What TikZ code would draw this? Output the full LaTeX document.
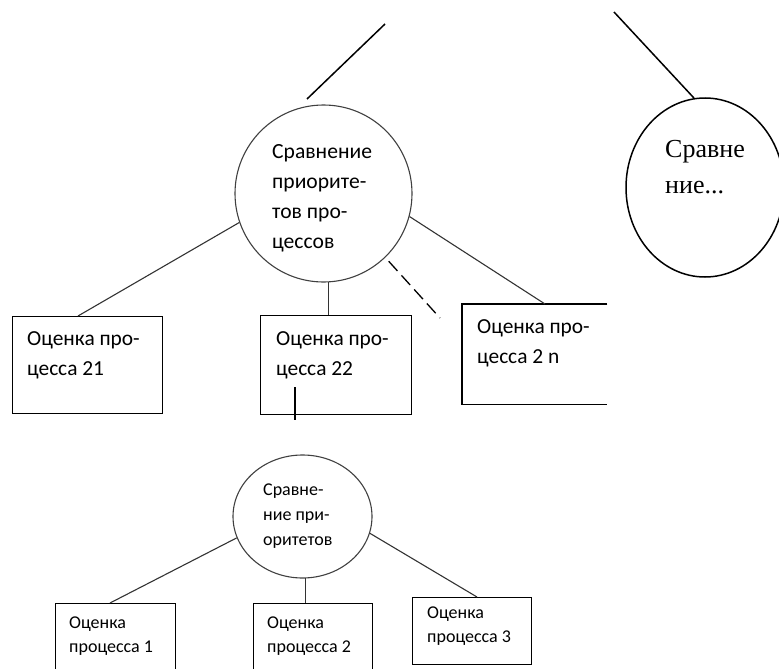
\documentclass[tikz,border=0pt]{standalone}
\usepackage{fontspec}
\setmainfont{Carlito}
\newfontfamily\tnr{Liberation Serif}
\usetikzlibrary{shapes.geometric,calc}
\newcommand\tlines[2]{\vtop{\baselineskip=#1\relax #2}}
\begin{document}
\begin{tikzpicture}[x=1pt,y=-1pt,
  conn/.style={line width=1.1pt,draw=black!80},
  boxs/.style={draw=black,line width=1.3pt,rectangle,inner sep=0pt,anchor=north west},
  ring/.style={draw=black!75,line width=1.1pt,circle,inner sep=0pt},
  oval/.style={draw=black!75,line width=1.1pt,ellipse,inner sep=0pt},
  lbl/.style={anchor=base west,inner sep=0pt,text=black},
  heavy/.style={line width=1.5pt,draw=black}]
\useasboundingbox (0,0) rectangle (779,669);
\clip (0,0) rectangle (779,669);

% shapes
\node[ring,minimum size=177pt] (bigc) at (323.5,193.5) {};
\node[oval,heavy,minimum width=158pt,minimum height=179pt] (re) at (705,187.5) {};
\node[boxs,minimum width=150pt,minimum height=97pt] (b21) at (12,316) {};
\node[boxs,minimum width=151pt,minimum height=99pt] (b22) at (260,315) {};
\node[boxs,draw=none,minimum width=144pt,minimum height=99pt] (b2n) at (462,304) {};
\draw[line width=1.3pt] (b2n.north east) -- (b2n.north west) -- (b2n.south west) -- (b2n.south east);
\node[oval,minimum width=139pt,minimum height=123pt] (se) at (302.5,516.5) {};
\node[boxs,minimum width=120pt,minimum height=90pt] (bx1) at (55,603) {};
\node[boxs,minimum width=119pt,minimum height=90pt] (bx2) at (253,603) {};
\node[boxs,minimum width=119pt,minimum height=67pt] (bx3) at (412,597) {};

% texts
\node[lbl] (t1) at (272,158) {\fontsize{21.6}{25}\selectfont\tlines{30pt}{\hbox{Сравнение}\hbox{приорите-}\hbox{тов про-}\hbox{цессов}}};
\node[lbl] (tre) at (665,157) {\tnr\fontsize{26}{30}\selectfont\tlines{36pt}{\hbox{Сравне}\hbox{ние...}}};
\node[lbl] (t21) at (27,345) {\fontsize{21.4}{25}\selectfont\tlines{30pt}{\hbox{Оценка про-}\hbox{цесса 21}}};
\node[lbl] (t22) at (276,345) {\fontsize{21.4}{25}\selectfont\tlines{30pt}{\hbox{Оценка про-}\hbox{цесса 22}}};
\node[lbl] (t2n) at (477,333) {\fontsize{21.4}{25}\selectfont\tlines{30pt}{\hbox{Оценка про-}\hbox{цесса 2 n}}};
\node[lbl] (tse) at (263,495) {\fontsize{18}{22}\selectfont\tlines{25pt}{\hbox{Сравне-}\hbox{ние при-}\hbox{оритетов}}};
\node[lbl] (tx1) at (69,628) {\fontsize{18}{22}\selectfont\tlines{24pt}{\hbox{Оценка}\hbox{процесса 1}}};
\node[lbl] (tx2) at (267,628) {\fontsize{18}{22}\selectfont\tlines{24pt}{\hbox{Оценка}\hbox{процесса 2}}};
\node[lbl] (tx3) at (427,618) {\fontsize{18}{22}\selectfont\tlines{24pt}{\hbox{Оценка}\hbox{процесса 3}}};

% free ends
\coordinate (tl1) at (385,24);
\coordinate (tl2) at (307,99);
\coordinate (tr1) at (614,12);
\coordinate (dend) at (440,318);
\coordinate (v1) at (295,387);
\coordinate (v2) at (295,420);

% connectors
\draw[heavy] (tl1) -- (tl2);
\draw[heavy] (tr1) -- (re.97.8);
\draw[conn] (bigc.199.6) -- ($(b21.north west)+(66,0)$);
\draw[conn] (bigc.-87) -- (bigc.-87 |- b22.north);
\draw[conn,draw=black,line width=1.3pt,dash pattern=on 13pt off 6pt,shorten <=5pt] (bigc.-46.7) -- (dend);
\draw[conn] (bigc.-15.5) -- ($(b2n.north west)+(83,0)$);
\draw[line width=1.3pt] (v1) -- (v2);
\draw[conn] (se.198.7) -- ($(bx1.north west)+(55,0)$);
\draw[conn] (se.-87) -- (se.-87 |- bx2.north);
\draw[conn] (se.-14.1) -- ($(bx3.north west)+(65,0)$);
\end{tikzpicture}
\end{document}
